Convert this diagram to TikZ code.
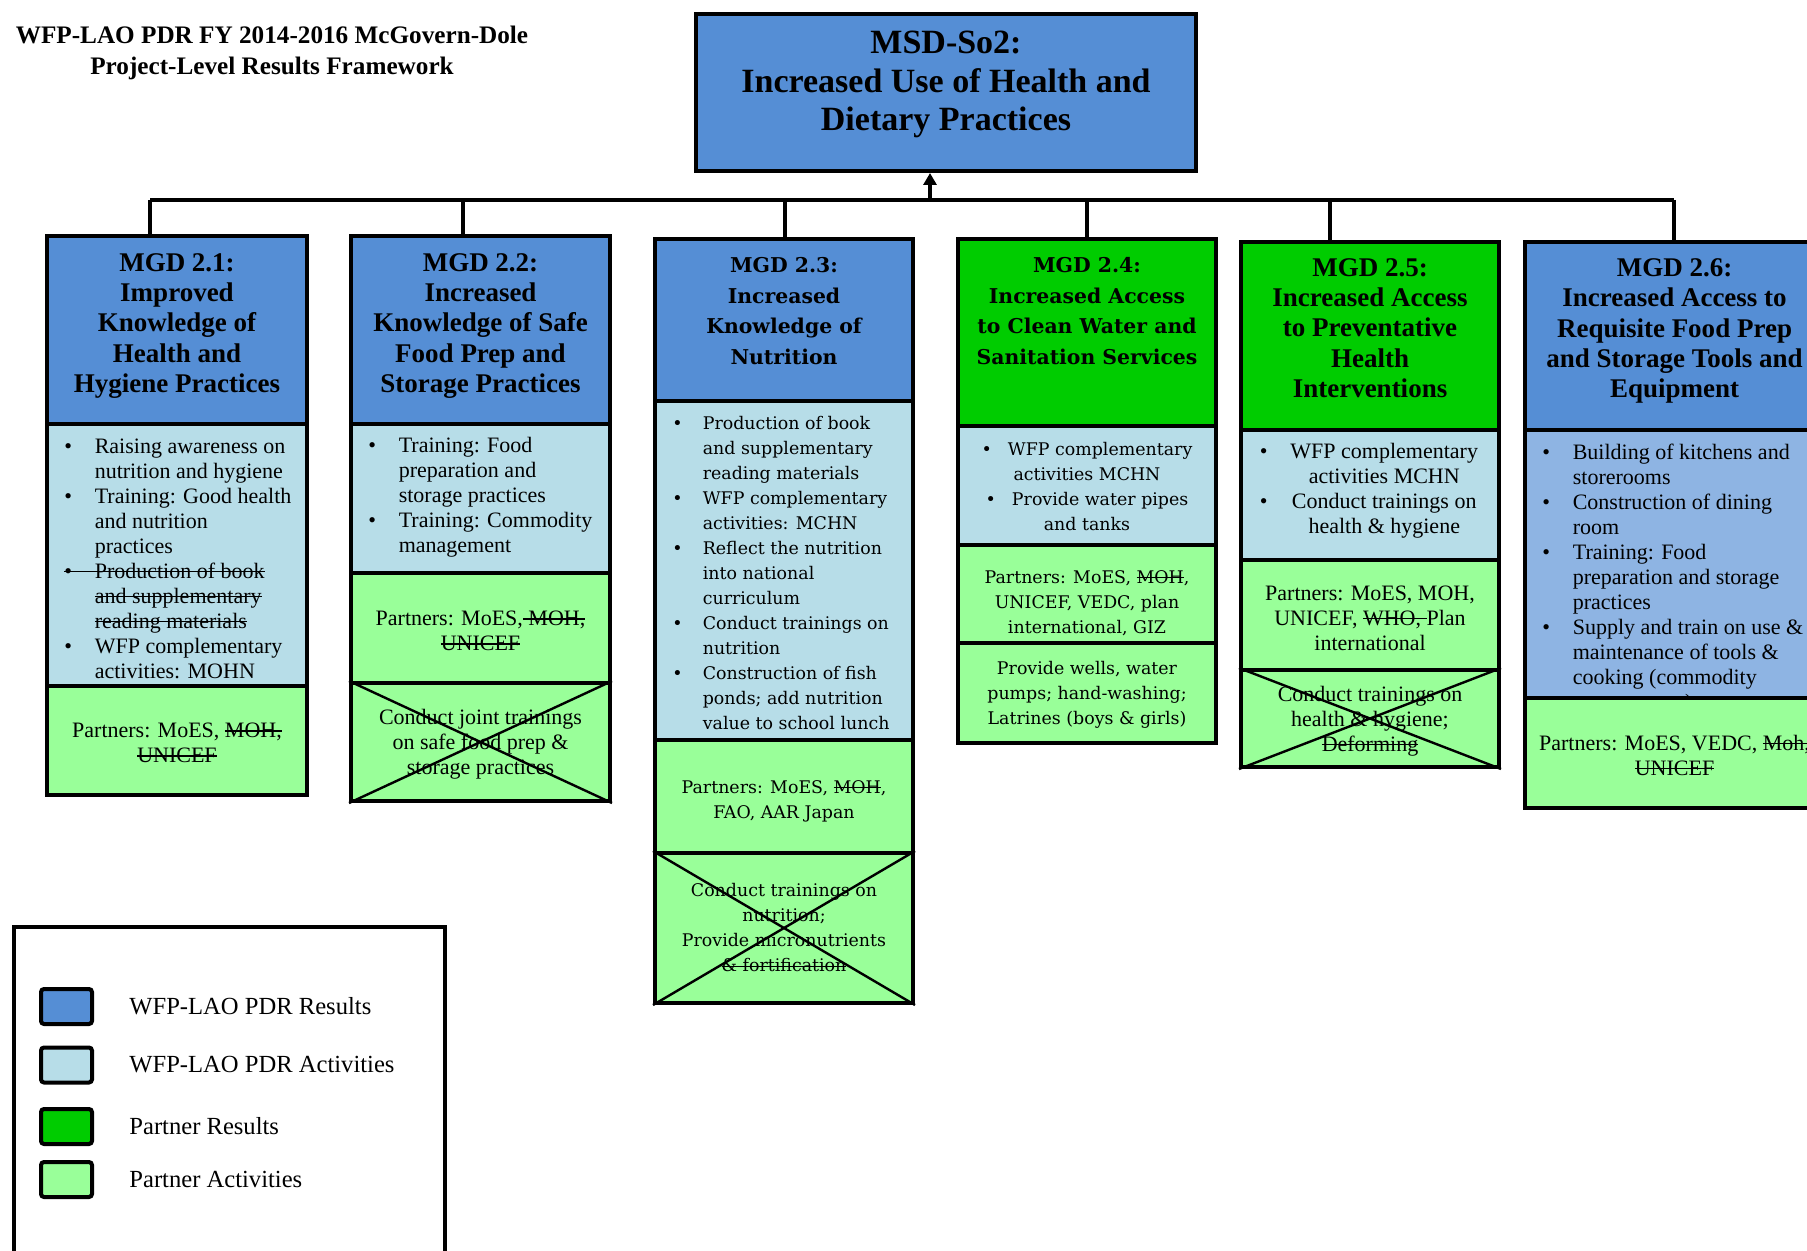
\documentclass[tikz,border=0pt]{standalone}
\usepackage{fontspec}
\setmainfont{Liberation Serif}
\newfontfamily\dvs{DejaVu Serif}
\usetikzlibrary{fit,arrows.meta}
\definecolor{hdrblue}{RGB}{85,142,213}
\definecolor{actblue}{RGB}{183,221,232}
\definecolor{midblue}{RGB}{142,180,227}
\definecolor{pgreen}{RGB}{0,204,0}
\definecolor{lgreen}{RGB}{153,255,153}
\newcommand\bul{\makebox[15.2pt][l]{\textbullet}}
\newcommand\ind{\hspace*{15.2pt}}
\newsavebox\stkbox
\newcommand\stk[1]{\sbox\stkbox{#1}\rlap{\rule[0.28em]{\wd\stkbox}{0.55pt}}\usebox\stkbox}
\begin{document}
\begin{tikzpicture}[x=0.5pt,y=-0.5pt,
  cellst/.style={draw, line width=2pt, inner sep=0pt},
  conn/.style={line width=1.6pt},
  xline/.style={line width=1.2pt},
  hdr/.style={align=center, inner sep=0pt, font=\fontsize{13.5}{15.2}\selectfont\bfseries},
  hdrd/.style={align=center, inner sep=0pt, font=\dvs\fontsize{10.2}{15.4}\selectfont\bfseries},
  body/.style={align=center, inner sep=0pt, font=\fontsize{11}{12.5}\selectfont},
  bodyl/.style={body, align=left, anchor=west},
  bodyd/.style={align=center, inner sep=0pt, font=\dvs\fontsize{8.7}{12.5}\selectfont},
  bodydl/.style={bodyd, align=left, anchor=west},
  swatch/.style={draw, line width=2pt, rounded corners=1.5pt, minimum width=25.5pt, minimum height=17.5pt, inner sep=0pt},
  legtxt/.style={anchor=west, inner sep=0pt, font=\fontsize{12.3}{14}\selectfont},
]
\useasboundingbox (0,0) rectangle (1807,1251);
\clip (0,0) rectangle (1807,1251);
\fill[white] (0,0) rectangle (1807,1251);

% title
\node[align=center, inner sep=0pt, font=\fontsize{12.6}{15.5}\selectfont\bfseries] (title) at (272,53)
  {WFP-LAO PDR FY 2014-2016 McGovern-Dole\\Project-Level Results Framework};

% top box
\node[cellst, fill=hdrblue, fit={(696,14) (1196,171)}] (top) {};
\node[align=center, inner sep=0pt, font=\fontsize{17}{19.3}\selectfont\bfseries] (toptxt) at (946,84.5)
  {MSD-So2:\\Increased Use of Health and\\Dietary Practices};

% column 1
\node[cellst, fill=hdrblue, fit={(47,236) (307,424)}] (h1) {};
\node[cellst, fill=actblue, fit={(47,424) (307,686)}] (a1) {};
\node[cellst, fill=lgreen, fit={(47,686) (307,795)}] (p1) {};
\node[hdr] (h1t) at (177,326) {MGD 2.1:\\Improved\\Knowledge of\\Health and\\Hygiene Practices};
\node[bodyl] (a1t) at (64,559) {\bul Raising awareness on\\\ind nutrition and hygiene\\\bul Training: Good health\\\ind and nutrition\\\ind practices\\\stk{\bul Production of book}\\\ind\stk{and supplementary}\\\ind\stk{reading materials}\\\bul WFP complementary\\\ind activities: MOHN};
\node[body] (p1t) at (177,743) {Partners: MoES, \stk{MOH,}\\\stk{UNICEF}};

% column 2
\node[cellst, fill=hdrblue, fit={(351,236) (610,424)}] (h2) {};
\node[cellst, fill=actblue, fit={(351,424) (610,573)}] (a2) {};
\node[cellst, fill=lgreen, fit={(351,573) (610,683)}] (p2) {};
\node[cellst, fill=lgreen, fit={(351,683) (610,801)}] (c2) {};
\node[hdr] (h2t) at (480.5,326) {MGD 2.2:\\Increased\\Knowledge of Safe\\Food Prep and\\Storage Practices};
\node[bodyl] (a2t) at (368,497) {\bul Training: Food\\\ind preparation and\\\ind storage practices\\\bul Training: Commodity\\\ind management};
\node[body] (p2t) at (480.5,631) {Partners: MoES,\stk{ MOH,}\\\stk{UNICEF}};
\node[body] (c2t) at (480.5,744) {Conduct joint trainings\\on safe food prep \&\\storage practices};

% column 3
\node[cellst, fill=hdrblue, fit={(655,239) (913,401)}] (h3) {};
\node[cellst, fill=actblue, fit={(655,401) (913,740)}] (a3) {};
\node[cellst, fill=lgreen, fit={(655,740) (913,853)}] (p3) {};
\node[cellst, fill=lgreen, fit={(655,853) (913,1003)}] (c3) {};
\node[hdrd] (h3t) at (784,311) {MGD 2.3:\\Increased\\Knowledge of\\Nutrition};
\node[bodydl] (a3t) at (672,573) {\bul Production of book\\\ind and supplementary\\\ind reading materials\\\bul WFP complementary\\\ind activities: MCHN\\\bul Reflect the nutrition\\\ind into national\\\ind curriculum\\\bul Conduct trainings on\\\ind nutrition\\\bul Construction of fish\\\ind ponds; add nutrition\\\ind value to school lunch};
\node[bodyd] (p3t) at (784,801) {Partners: MoES, \stk{MOH},\\FAO, AAR Japan};
\node[bodyd] (c3t) at (784,928) {Conduct trainings on\\nutrition;\\Provide micronutrients\\\stk{\& fortification}};

% column 4
\node[cellst, fill=pgreen, fit={(958,239) (1216,426)}] (h4) {};
\node[cellst, fill=actblue, fit={(958,426) (1216,545)}] (a4) {};
\node[cellst, fill=lgreen, fit={(958,545) (1216,643)}] (p4) {};
\node[cellst, fill=lgreen, fit={(958,643) (1216,743)}] (l4) {};
\node[hdrd] (h4t) at (1087,311) {MGD 2.4:\\Increased Access\\to Clean Water and\\Sanitation Services};
\node[bodyd] (a4t) at (1087,487) {\textbullet\hspace{8pt}WFP complementary\\activities MCHN\\\textbullet\hspace{8pt}Provide water pipes\\and tanks};
\node[bodyd] (p4t) at (1087,603) {Partners: MoES, \stk{MOH},\\UNICEF, VEDC, plan\\international, GIZ};
\node[bodyd] (l4t) at (1087,695) {Provide wells, water\\pumps; hand-washing;\\Latrines (boys \& girls)};

% column 5
\node[cellst, fill=pgreen, fit={(1241,242) (1499,430)}] (h5) {};
\node[cellst, fill=actblue, fit={(1241,430) (1499,560)}] (a5) {};
\node[cellst, fill=lgreen, fit={(1241,560) (1499,670)}] (p5) {};
\node[cellst, fill=lgreen, fit={(1241,670) (1499,767)}] (c5) {};
\node[hdr] (h5t) at (1370,328) {MGD 2.5:\\Increased Access\\to Preventative\\Health\\Interventions};
\node[body] (a5t) at (1369,491) {\begin{tabular}{@{}l@{\hspace{11.4pt}}c@{}}\textbullet & WFP complementary\\ & activities MCHN\\ \textbullet & Conduct trainings on\\ & health \& hygiene\end{tabular}};
\node[body] (p5t) at (1370,618) {Partners: MoES, MOH,\\UNICEF, \stk{WHO, }Plan\\international};
\node[body] (c5t) at (1370,721) {Conduct trainings on\\health \& hygiene;\\\stk{Deforming}};

% column 6
\node[cellst, fill=hdrblue, fit={(1525,242) (1824,430)}] (h6) {};
\node[cellst, fill=midblue, fit={(1525,430) (1824,698)}] (a6) {};
\node[cellst, fill=lgreen, fit={(1525,698) (1824,808)}] (p6) {};
\node[hdr] (h6t) at (1674.5,331) {MGD 2.6:\\Increased Access to\\Requisite Food Prep\\and Storage Tools and\\Equipment};
\begin{scope}
\clip (1526,431) rectangle (1823,697);
\node[bodyl] (a6t) at (1542,579) {\bul Building of kitchens and\\\ind storerooms\\\bul Construction of dining\\\ind room\\\bul Training: Food\\\ind preparation and storage\\\ind practices\\\bul Supply and train on use \&\\\ind maintenance of tools \&\\\ind cooking (commodity\\\ind management)};
\end{scope}
\node[body] (p6t) at (1674.5,755) {Partners: MoES, VEDC, \stk{Moh,}\\\stk{UNICEF}};

% crosses
\draw[xline] (c2.north west) -- (c2.south east) (c2.south west) -- (c2.north east);
\draw[xline] (c3.north west) -- (c3.south east) (c3.south west) -- (c3.north east);
\draw[xline] (c5.north west) -- (c5.south east) (c5.south west) -- (c5.north east);

% connectors
\coordinate (j1) at (150,200);
\coordinate (j2) at (463,200);
\coordinate (j3) at (785,200);
\coordinate (j4) at (1087,200);
\coordinate (j5) at (1330,200);
\coordinate (j6) at (1674,200);
\coordinate (jm) at (930,200);
\draw[conn] (j1) -- (j6);
\foreach \i in {1,...,6} \draw[conn] (j\i) -- (j\i |- h\i.north);
\draw[conn, -{Triangle[width=6.5pt,length=6pt]}] (jm) -- (jm |- top.south);

% legend
\node[draw, line width=1.75pt, inner sep=0pt, fit={(14,927) (445,1300)}] (leg) {};
\node[swatch, fill=hdrblue] (s1) at (66.5,1006.5) {};
\node[swatch, fill=actblue] (s2) at (66.5,1065) {};
\node[swatch, fill=pgreen] (s3) at (66.5,1126.5) {};
\node[swatch, fill=lgreen] (s4) at (66.5,1179.5) {};
\node[legtxt] (l1) at (129,1006.5) {WFP-LAO PDR Results};
\node[legtxt] (l2) at (129,1065) {WFP-LAO PDR Activities};
\node[legtxt] (l3) at (129,1126.5) {Partner Results};
\node[legtxt] (l4x) at (129,1179.5) {Partner Activities};
\end{tikzpicture}
\end{document}
